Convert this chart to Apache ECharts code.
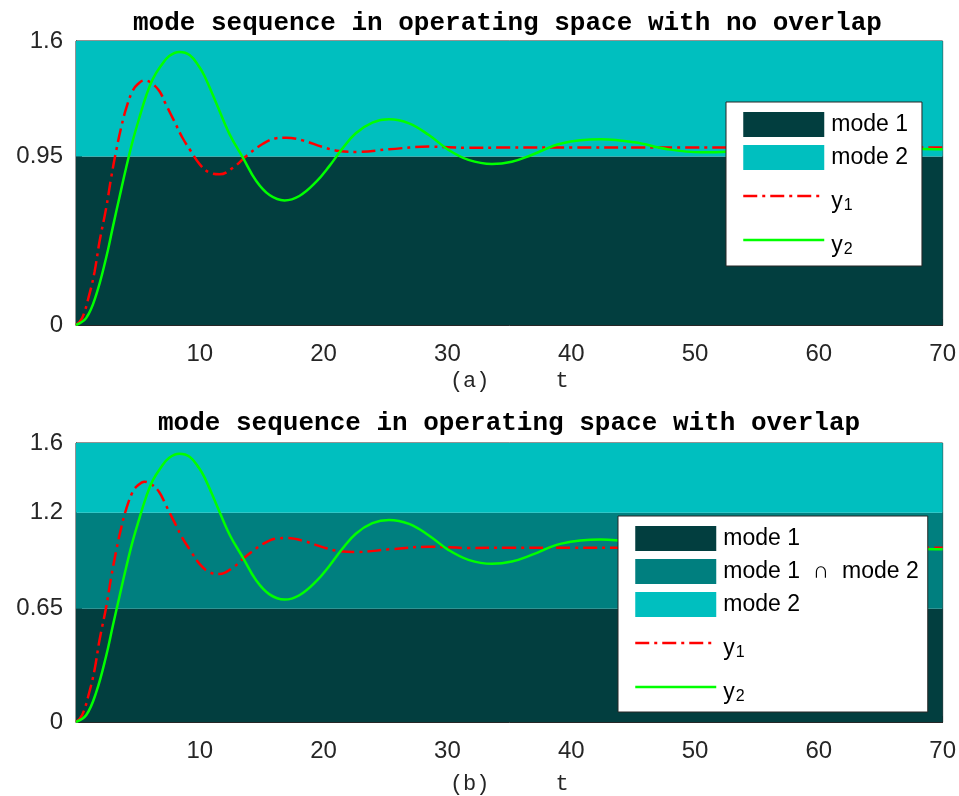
<!DOCTYPE html>
<html>
<head>
<meta charset="utf-8">
<title>mode sequence</title>
<script src="https://cdn.jsdelivr.net/npm/echarts@6/dist/echarts.min.js"></script>
<style>
  html, body { margin: 0; padding: 0; background: #fff; }
  #main { width: 959px; height: 796px; }
</style>
</head>
<body>
<div id="main"></div>
<script>
  // y1 (red dash-dot)
  var t1Vals = [
    0, 0.5, 1.09, 1.5, 1.9, 2.44, 2.84, 3.24, 3.64, 4.05, 4.58, 4.98, 5.52,
    6.06, 6.73, 7.26, 7.93, 8.6, 9.27, 10, 10.8, 11.6, 12.68, 13.76, 15.1,
    16.17, 16.98, 18.31, 19.92, 21.26, 22.7, 25.3, 28.5, 31.7, 35, 40, 45,
    50, 55, 60, 65, 70
  ]
  var y1Vals = [
    0, 0.04, 0.175, 0.30, 0.47, 0.66, 0.83, 0.98, 1.11, 1.22, 1.32, 1.356, 1.378,
    1.365, 1.318, 1.243, 1.149, 1.055, 0.98, 0.905, 0.858, 0.849, 0.886, 0.952, 1.021,
    1.052, 1.055, 1.04, 1.003, 0.98, 0.975, 0.99, 1.005, 0.998, 1.0, 1.0, 1.0,
    1.0, 1.0, 1.0, 1.0, 1.0
  ]
  // y2 (green solid)
  var t2Vals = [
    0, 0.83, 1.63, 2.44, 2.97, 3.51, 4.05, 4.58, 5.12, 5.66, 6.19, 6.86, 7.53,
    8.34, 9.2, 9.95, 10.4, 11.34, 12.41, 13.48, 14.56, 15.63, 16.84, 18.04, 19.39,
    20.46, 21.53, 22.6, 23.94, 25.28, 26.9, 28.5, 30.1, 31.7, 33.6, 35.2, 36.8,
    39.2, 42.4, 45.1, 47.8, 50.5, 53, 56, 59, 62, 65, 68, 70
  ]
  var y2Vals = [
    0, 0.04, 0.17, 0.38, 0.55, 0.72, 0.886, 1.037, 1.168, 1.29, 1.384, 1.46, 1.515,
    1.538, 1.52, 1.455, 1.40, 1.248, 1.074, 0.943, 0.811, 0.732, 0.702, 0.727, 0.806,
    0.895, 0.995, 1.08, 1.14, 1.159, 1.136, 1.07, 0.986, 0.93, 0.907, 0.92, 0.958,
    1.023, 1.046, 1.029, 0.99, 0.973, 0.978, 0.993, 1.007, 1.01, 1.001, 0.993, 0.99
  ]
  // mode boundaries
  var levelsTop = [0, 0.95, 1.6]
  var levelsBottom = [0, 0.65, 1.2, 1.6]
  var yTicksTop = [0, 0.95, 1.6]
  var yTicksBottom = [0, 0.65, 1.2, 1.6]
  var xTicks = [0, 10, 20, 30, 40, 50, 60, 70]

  var C_MODE1 = '#023e3f'
  var C_MID = '#007f7f'
  var C_MODE2 = '#00bfbf'
  var C_RED = '#ff0000'
  var C_GREEN = '#00ff00'
  var TXT = '#262626'
  var DASHDOT = [14, 5, 3, 5]
  var INTER = 'mode 1  \u2229  mode 2'

  var chart = echarts.init(document.getElementById('main'))

  function pairs(ts, ys) {
    return ts.map(function (t, i) { return [t, ys[i]] })
  }

  function band(name, gi, lo, hi, color) {
    return {
      name: name,
      type: 'line',
      xAxisIndex: gi,
      yAxisIndex: gi,
      data: [],
      z: 1,
      silent: true,
      markArea: {
        silent: true,
        itemStyle: { color: color, opacity: 1 },
        data: [[
          { xAxis: xTicks[0], yAxis: lo },
          { xAxis: xTicks[xTicks.length - 1], yAxis: hi }
        ]]
      }
    }
  }

  function curve(name, gi, ts, ys, color, dash) {
    return {
      name: name,
      type: 'line',
      xAxisIndex: gi,
      yAxisIndex: gi,
      data: pairs(ts, ys),
      smooth: 0.4,
      symbol: 'none',
      z: 3,
      lineStyle: { color: color, width: 2.5, type: dash || 'solid' },
      itemStyle: { color: color }
    }
  }

  function xAxisCfg(gi, label, gap) {
    return {
      type: 'value',
      gridIndex: gi,
      min: xTicks[0],
      max: xTicks[xTicks.length - 1],
      interval: 10,
      name: label,
      nameLocation: 'middle',
      nameGap: gap,
      nameTextStyle: { fontFamily: 'Liberation Mono', fontSize: 22, color: TXT },
      axisLine: { show: true, lineStyle: { color: TXT, width: 1 } },
      axisTick: { show: true, inside: true, length: 6, lineStyle: { color: TXT } },
      axisLabel: { showMinLabel: false, margin: 17, fontSize: 24, color: TXT, fontFamily: 'Liberation Sans' },
      splitLine: { show: false }
    }
  }

  function yAxisCfg(gi, ticks) {
    return {
      type: 'value',
      gridIndex: gi,
      min: ticks[0],
      max: ticks[ticks.length - 1],
      axisLine: { show: true, lineStyle: { color: TXT, width: 1 } },
      axisTick: { show: true, inside: true, length: 6, customValues: ticks, lineStyle: { color: TXT } },
      axisLabel: {
        customValues: ticks, margin: 13, fontSize: 24, color: TXT,
        fontFamily: 'Liberation Sans', padding: [7, 0, 0, 0]
      },
      splitLine: { show: false }
    }
  }

  function legendCfg(left, top, names, pad) {
    return {
      orient: 'vertical',
      left: left,
      top: top,
      padding: pad,
      itemWidth: 81,
      itemHeight: 25,
      itemGap: 8,
      selectedMode: false,
      backgroundColor: '#fff',
      borderColor: TXT,
      borderWidth: 1,
      borderRadius: 0,
      textStyle: {
        fontSize: 23,
        color: '#000',
        fontFamily: 'Liberation Sans',
        padding: [0, 0, 0, 2],
        rich: {
          // y with a lowered index
          b: { fontSize: 23, lineHeight: 24, padding: [12, 0, 0, 0], color: '#000', fontFamily: 'Liberation Sans' },
          s: { fontSize: 16, lineHeight: 16, padding: [20, 0, 0, 1], color: '#000', fontFamily: 'Liberation Sans' }
        }
      },
      formatter: function (name) {
        if (name === 'y1') return '{b|y}{s|1}'
        if (name === 'y2') return '{b|y}{s|2}'
        return name
      },
      data: names.map(function (n) {
        if (n === 'y1') {
          return { name: n, lineStyle: { color: C_RED, width: 2.5, type: DASHDOT }, itemStyle: { color: 'transparent', borderWidth: 0, opacity: 0 } }
        }
        if (n === 'y2') {
          return { name: n, lineStyle: { color: C_GREEN, width: 2.5 }, itemStyle: { color: 'transparent', borderWidth: 0, opacity: 0 } }
        }
        var c = n === 'mode 1' ? C_MODE1 : (n === 'mode 2' ? C_MODE2 : C_MID)
        return { name: n, icon: 'rect', itemStyle: { color: c, borderWidth: 0 } }
      })
    }
  }

  var titleStyle = { fontFamily: 'Liberation Mono', fontSize: 26, fontWeight: 'bold', color: '#000' }

  chart.setOption({
    backgroundColor: '#fff',
    animation: false,
    title: [
      { text: 'mode sequence in operating space with no overlap', left: 133, top: 10, padding: 0, textStyle: titleStyle },
      { text: 'mode sequence in operating space with overlap', left: 158, top: 410, padding: 0, textStyle: titleStyle }
    ],
    grid: [
      { left: 76, top: 41, width: 870, height: 284, show: true, borderColor: TXT, borderWidth: 1, backgroundColor: '#fff' },
      { left: 76, top: 443, width: 870, height: 280, show: true, borderColor: TXT, borderWidth: 1, backgroundColor: '#fff' }
    ],
    xAxis: [
      xAxisCfg(0, '(a)     t', 45),
      xAxisCfg(1, '(b)     t', 51)
    ],
    yAxis: [
      yAxisCfg(0, yTicksTop),
      yAxisCfg(1, yTicksBottom)
    ],
    legend: [
      legendCfg(726, 102, ['mode 1', 'mode 2', 'y1', 'y2'], [10, 14, 8, 16]),
      legendCfg(618, 516, ['mode 1', INTER, 'mode 2', 'y1', 'y2'], [10, 9, 7, 16])
    ],
    series: [
      band('mode 1', 0, levelsTop[0], levelsTop[1], C_MODE1),
      band('mode 2', 0, levelsTop[1], levelsTop[2], C_MODE2),
      band('mode 1', 1, levelsBottom[0], levelsBottom[1], C_MODE1),
      band(INTER, 1, levelsBottom[1], levelsBottom[2], C_MID),
      band('mode 2', 1, levelsBottom[2], levelsBottom[3], C_MODE2),
      curve('y1', 0, t1Vals, y1Vals, C_RED, DASHDOT),
      curve('y2', 0, t2Vals, y2Vals, C_GREEN),
      curve('y1', 1, t1Vals, y1Vals, C_RED, DASHDOT),
      curve('y2', 1, t2Vals, y2Vals, C_GREEN)
    ]
  })

  window.addEventListener('resize', function () {
    chart.resize()
  })
</script>
</body>
</html>
